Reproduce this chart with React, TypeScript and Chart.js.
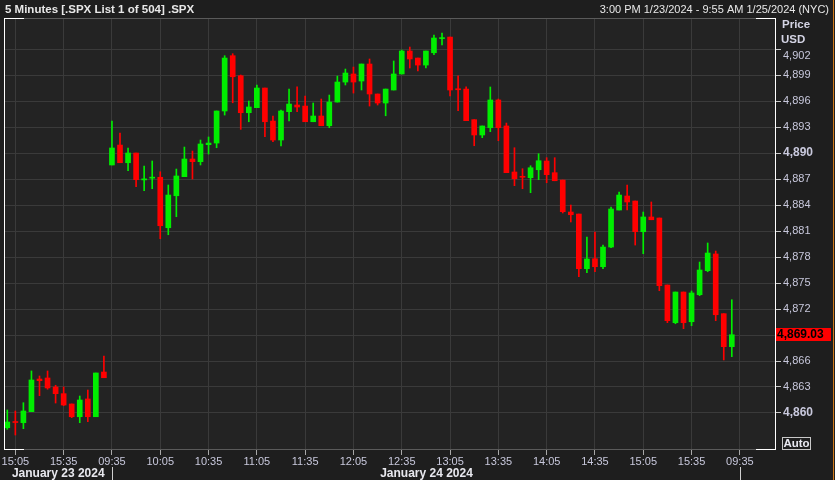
import React, { useEffect, useRef } from 'react';
import { Chart, registerables } from 'chart.js';

Chart.register(...registerables);

// 5-minute slots: Jan 23 (15:00-15:55), Jan 24 (09:30-15:55), Jan 25 (09:30-09:55)
const times = [
  '15:00','15:05','15:10','15:15','15:20','15:25','15:30','15:35','15:40','15:45','15:50','15:55',
  '09:30','09:35','09:40','09:45','09:50','09:55',
  '10:00','10:05','10:10','10:15','10:20','10:25','10:30','10:35','10:40','10:45','10:50','10:55',
  '11:00','11:05','11:10','11:15','11:20','11:25','11:30','11:35','11:40','11:45','11:50','11:55',
  '12:00','12:05','12:10','12:15','12:20','12:25','12:30','12:35','12:40','12:45','12:50','12:55',
  '13:00','13:05','13:10','13:15','13:20','13:25','13:30','13:35','13:40','13:45','13:50','13:55',
  '14:00','14:05','14:10','14:15','14:20','14:25','14:30','14:35','14:40','14:45','14:50','14:55',
  '15:00','15:05','15:10','15:15','15:20','15:25','15:30','15:35','15:40','15:45','15:50','15:55',
  '09:30','09:35','09:40','09:45','09:50','09:55',
];

const opens = [
  4858.30, 4859.00, 4858.88, 4860.15, 4863.92, 4864.04, 4863.00, 4862.23, 4861.04, 4859.57,
  4861.62, 4859.57, 4864.73, 4888.62, 4890.92, 4888.88, 4890.00, 4886.90, 4887.10, 4887.20,
  4881.38, 4885.07, 4887.27, 4889.31, 4889.00, 4890.96, 4891.15, 4894.85, 4901.23, 4898.92,
  4894.65, 4895.23, 4897.50, 4893.69, 4891.50, 4894.77, 4895.54, 4895.42, 4893.61, 4894.27,
  4893.15, 4895.88, 4898.19, 4899.12, 4898.31, 4900.27, 4896.81, 4895.77, 4897.27, 4899.12,
  4901.77, 4900.96, 4900.15, 4901.57, 4903.20, 4903.38, 4897.40, 4897.38, 4893.85, 4892.08,
  4892.92, 4896.12, 4893.12, 4887.81, 4887.30, 4887.15, 4888.07, 4889.08, 4887.73, 4886.88,
  4883.19, 4882.96, 4876.65, 4877.80, 4876.88, 4879.15, 4883.42, 4885.04, 4884.46, 4880.92,
  4882.62, 4882.50, 4874.77, 4870.42, 4873.96, 4870.53, 4873.65, 4876.42, 4878.35, 4871.46,
  4867.65,
];
const highs = [
  4860.35, 4860.23, 4861.19, 4864.85, 4864.27, 4864.85, 4863.20, 4863.00, 4861.04, 4861.96,
  4862.65, 4864.62, 4866.58, 4893.69, 4892.31, 4890.58, 4890.00, 4888.50, 4889.08, 4887.84,
  4886.31, 4888.15, 4890.69, 4890.23, 4891.50, 4891.85, 4894.85, 4901.23, 4901.46, 4899.00,
  4896.00, 4897.85, 4897.50, 4894.27, 4894.96, 4897.38, 4897.65, 4896.58, 4895.77, 4896.23,
  4896.69, 4898.88, 4899.69, 4899.92, 4900.27, 4900.85, 4896.81, 4897.38, 4900.62, 4901.88,
  4902.23, 4900.96, 4901.77, 4903.62, 4903.85, 4903.38, 4898.92, 4897.65, 4893.85, 4893.12,
  4897.62, 4896.23, 4893.46, 4890.61, 4888.19, 4888.53, 4889.92, 4889.46, 4889.46, 4886.88,
  4884.00, 4882.96, 4880.31, 4880.88, 4879.38, 4883.77, 4885.50, 4886.31, 4884.46, 4883.19,
  4884.35, 4882.50, 4874.77, 4873.96, 4873.96, 4874.08, 4877.42, 4879.62, 4878.69, 4871.46,
  4873.07,
];
const lows = [
  4858.12, 4857.46, 4858.19, 4860.15, 4862.00, 4862.74, 4861.15, 4860.84, 4859.46, 4858.88,
  4859.00, 4859.57, 4864.07, 4888.62, 4888.88, 4887.96, 4886.11, 4885.65, 4885.88, 4880.11,
  4880.57, 4882.65, 4887.27, 4887.00, 4888.62, 4889.88, 4890.61, 4894.38, 4895.80, 4892.73,
  4893.61, 4895.23, 4891.88, 4891.30, 4890.81, 4893.69, 4894.77, 4893.61, 4893.61, 4893.15,
  4892.92, 4895.88, 4897.85, 4896.92, 4897.27, 4895.42, 4895.54, 4894.30, 4897.27, 4899.12,
  4899.81, 4899.46, 4899.81, 4901.34, 4902.46, 4896.58, 4894.88, 4893.73, 4890.84, 4891.77,
  4892.46, 4891.42, 4887.73, 4886.23, 4885.88, 4885.42, 4886.92, 4886.57, 4886.80, 4883.08,
  4882.04, 4875.73, 4876.19, 4876.30, 4876.65, 4879.07, 4883.42, 4883.42, 4879.38, 4878.38,
  4882.30, 4874.11, 4870.42, 4870.30, 4869.73, 4870.07, 4873.54, 4876.30, 4870.65, 4866.12,
  4866.50,
];
const closes = [
  4858.96, 4858.90, 4860.23, 4863.81, 4863.73, 4862.89, 4862.23, 4860.92, 4859.57, 4861.50,
  4859.57, 4864.62, 4864.07, 4890.58, 4888.88, 4890.00, 4886.92, 4887.00, 4887.20, 4881.61,
  4885.15, 4887.35, 4889.31, 4889.00, 4891.04, 4891.15, 4894.85, 4900.96, 4898.80, 4894.65,
  4895.31, 4897.50, 4893.61, 4891.50, 4894.85, 4895.65, 4895.31, 4893.61, 4894.27, 4893.15,
  4895.88, 4898.19, 4899.23, 4898.19, 4900.27, 4896.81, 4895.77, 4897.38, 4899.12, 4901.77,
  4900.85, 4900.15, 4901.77, 4903.27, 4903.30, 4897.27, 4897.30, 4893.73, 4892.08, 4893.12,
  4896.12, 4892.92, 4887.73, 4887.03, 4887.20, 4888.30, 4889.11, 4887.50, 4886.80, 4883.23,
  4882.88, 4876.65, 4877.77, 4876.88, 4879.15, 4883.54, 4885.15, 4884.35, 4880.92, 4882.62,
  4882.30, 4874.69, 4870.65, 4873.96, 4870.42, 4873.85, 4876.50, 4878.46, 4871.34, 4867.65,
  4869.03,
];

const xTickIndex = [1, 7, 13, 19, 25, 31, 37, 43, 49, 55, 61, 67, 73, 79, 85, 91];
const yTicks = [4860, 4863, 4866, 4869, 4872, 4875, 4878, 4881, 4884, 4887, 4890, 4893, 4896, 4899, 4902];
const boldTicks = [4860, 4890];
const dayStartIndex = [13, 91];
const dateLabels = ['January 23 2024', 'January 24 2024'];
const lastPrice = 4869.03;
const headerLeft = '5 Minutes [.SPX List 1 of 504] .SPX';
const headerRight = '3:00 PM 1/23/2024 - 9:55 AM 1/25/2024 (NYC)';
const axisTitle = ['Price', 'USD'];

const UP = '#00ee00';
const DOWN = '#ff0000';
const FONT = "'Liberation Sans', Arial, sans-serif";

const fmt = (v: number, dec = 0) => {
  const s = v.toFixed(dec);
  const [a, b] = s.split('.');
  const w = a.replace(/\B(?=(\d{3})+(?!\d))/g, ',');
  return b ? w + '.' + b : w;
};

const decor = {
  id: 'decor',
  beforeDraw(chart: any) {
    const { ctx, chartArea: a, width, height } = chart;
    ctx.save();
    ctx.fillStyle = '#1e1e1e';
    ctx.fillRect(0, 0, width, height);
    ctx.fillStyle = '#232323';
    ctx.fillRect(a.left, a.top, a.right - a.left, a.bottom - a.top);
    ctx.restore();
  },
  afterDraw(chart: any) {
    const { ctx, chartArea: a, width, height } = chart;
    const xs = chart.scales.x;
    const ys = chart.scales.y;
    ctx.save();
    // frame
    ctx.lineWidth = 1;
    ctx.strokeStyle = '#5a5a5a';
    ctx.beginPath();
    ctx.moveTo(a.left, a.top + 0.5); ctx.lineTo(a.right, a.top + 0.5);
    ctx.moveTo(a.left, a.bottom - 0.5); ctx.lineTo(a.right, a.bottom - 0.5);
    ctx.stroke();
    ctx.strokeStyle = '#ffffff';
    ctx.beginPath();
    ctx.moveTo(a.left + 0.5, a.top); ctx.lineTo(a.left + 0.5, a.bottom);
    ctx.moveTo(a.right - 0.5, a.top); ctx.lineTo(a.right - 0.5, a.bottom);
    ctx.moveTo(a.left, a.top + 0.5); ctx.lineTo(a.left + 20, a.top + 0.5);
    ctx.moveTo(a.right - 20, a.top + 0.5); ctx.lineTo(a.right, a.top + 0.5);
    ctx.moveTo(a.left, a.bottom - 0.5); ctx.lineTo(a.left + 20, a.bottom - 0.5);
    ctx.moveTo(a.right - 20, a.bottom - 0.5); ctx.lineTo(a.right, a.bottom - 0.5);
    ctx.stroke();

    // header
    ctx.textBaseline = 'middle';
    ctx.fillStyle = '#e8e8e8';
    ctx.font = `bold 11.5px ${FONT}`;
    ctx.textAlign = 'left';
    ctx.fillText(headerLeft, 5, 10);
    ctx.font = `11px ${FONT}`;
    ctx.textAlign = 'right';
    ctx.fillText(headerRight, 829, 10);

    // axis title
    ctx.textAlign = 'left';
    ctx.font = `bold 11.5px ${FONT}`;
    ctx.fillStyle = '#d4d4e4';
    ctx.fillText(axisTitle[0], 782, 25);
    ctx.fillText(axisTitle[1], 781, 40);

    // day separators and date labels
    const seps = dayStartIndex.map((i) => Math.round(xs.getPixelForValue(i)) + 0.5);
    ctx.strokeStyle = '#d0d0d0';
    ctx.beginPath();
    seps.forEach((x) => { ctx.moveTo(x, 467); ctx.lineTo(x, height); });
    ctx.stroke();
    ctx.font = `bold 12px ${FONT}`;
    ctx.fillStyle = '#e8e8ee';
    ctx.textAlign = 'center';
    const bounds = [a.left, ...seps];
    dateLabels.forEach((t, i) => {
      ctx.fillText(t, (bounds[i] + bounds[i + 1]) / 2, 474);
    });

    // last price marker
    const yp = ys.getPixelForValue(lastPrice);
    ctx.fillStyle = '#ff0000';
    ctx.fillRect(a.right, Math.round(yp) - 7, 55, 13);
    ctx.fillStyle = '#000000';
    ctx.textAlign = 'left';
    ctx.font = `bold 12px ${FONT}`;
    ctx.fillText(fmt(lastPrice, 2), a.right + 1, Math.round(yp));

    // Auto box
    ctx.strokeStyle = '#c8c8c8';
    ctx.strokeRect(782.5, 437.5, 28, 12);
    ctx.fillStyle = '#e8e8f0';
    ctx.font = `bold 11.5px ${FONT}`;
    ctx.textAlign = 'center';
    ctx.fillText('Auto', 796.5, 444);

    // right edge accent
    ctx.strokeStyle = '#d07a1a';
    ctx.beginPath();
    ctx.moveTo(width - 1.5, 0); ctx.lineTo(width - 1.5, height);
    ctx.stroke();
    ctx.restore();
  },
};

export default function App() {
  const ref = useRef<HTMLCanvasElement | null>(null);
  useEffect(() => {
    if (!ref.current) return;
    const colors = opens.map((o, i) => (closes[i] >= o ? UP : DOWN));
    const chart = new Chart(ref.current, {
      type: 'bar',
      data: {
        datasets: [
          {
            label: 'body',
            data: opens.map((o, i) => ({ x: i, y: [o, closes[i]] })) as any,
            backgroundColor: colors,
            barThickness: 5,
            minBarLength: 1,
            grouped: false,
            borderWidth: 0,
          } as any,
          {
            label: 'wick',
            data: lows.map((l, i) => ({ x: i, y: [l, highs[i]] })) as any,
            backgroundColor: colors,
            barThickness: 1,
            grouped: false,
            borderWidth: 0,
          } as any,
        ],
      },
      options: {
        animation: false,
        responsive: false,
        devicePixelRatio: 1,
        layout: { padding: { left: 4, top: 18, right: 0, bottom: 0 } },
        plugins: { legend: { display: false }, tooltip: { enabled: false } },
        scales: {
          x: {
            type: 'linear',
            offset: false,
            min: -0.41,
            max: 95.49,
            afterBuildTicks: (s: any) => { s.ticks = xTickIndex.map((v) => ({ value: v })); },
            afterFit: (s: any) => { s.height = 30; s.paddingLeft = 0; s.paddingRight = 0; },
            grid: { color: '#3a3a3a', tickColor: '#a8a8a8', tickLength: 5, drawTicks: true, offset: false },
            border: { display: false },
            ticks: {
              color: '#c8c8dc',
              font: { family: FONT, size: 11 },
              padding: 0,
              maxRotation: 0,
              autoSkip: false,
              callback: (v: any) => times[v as number],
            },
          },
          y: {
            type: 'linear',
            position: 'right',
            min: 4855.73,
            max: 4905.58,
            afterBuildTicks: (s: any) => { s.ticks = yTicks.map((v) => ({ value: v })); },
            afterFit: (s: any) => { s.width = 59; s.paddingTop = 0; s.paddingBottom = 0; },
            grid: { color: '#3a3a3a', tickColor: '#c8c8c8', tickLength: 5 },
            border: { display: false },
            ticks: {
              color: '#c8c8dc',
              padding: 2,
              font: (c: any) => {
                const b = c.tick && boldTicks.includes(c.tick.value);
                return { family: FONT, size: b ? 12 : 11, weight: b ? 'bold' : 'normal' } as any;
              },
              callback: (v: any) => (v === 4902 ? ['', fmt(v as number)] : fmt(v as number)),
            },
          },
        },
      },
      plugins: [decor],
    });
    return () => chart.destroy();
  }, []);
  return (
    <div style={{ position: 'fixed', left: 0, top: 0, width: 835, height: 480, background: '#1e1e1e' }}>
      <canvas ref={ref} width={835} height={480} style={{ display: 'block' }} />
    </div>
  );
}
